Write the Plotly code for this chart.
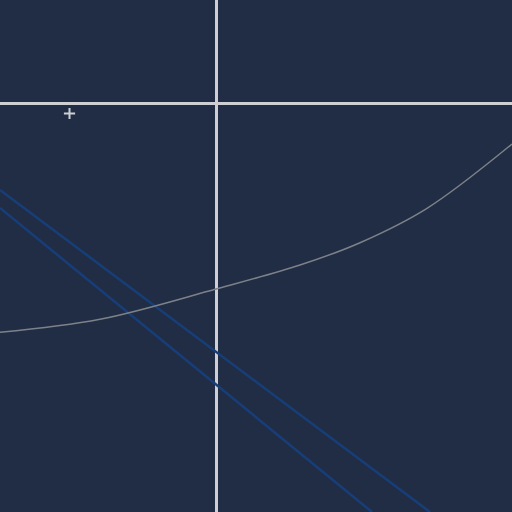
import plotly.graph_objects as go

# Gray curve
curve_x = [-2.16, -1.16, 0.0, 0.84, 1.44, 2.11, 2.96]
curve_y = [-2.293, -2.163, -1.86, -1.62, -1.397, -1.053, -0.41]

# Two blue straight lines
line1_x = [-2.16, 2.14]
line1_y = [-0.87, -4.09]
line2_x = [-2.16, 1.56]
line2_y = [-1.05, -4.09]

# Marker
mark_x = [-1.465]
mark_y = [-0.105]

BG = "rgb(33,45,68)"

fig = go.Figure()
fig.add_trace(go.Scatter(x=line1_x, y=line1_y, mode="lines",
                         line=dict(color="rgb(24,62,122)", width=2.5), hoverinfo="skip"))
fig.add_trace(go.Scatter(x=line2_x, y=line2_y, mode="lines",
                         line=dict(color="rgb(24,62,122)", width=2.5), hoverinfo="skip"))
fig.add_trace(go.Scatter(x=curve_x, y=curve_y, mode="lines",
                         line=dict(color="rgb(125,130,138)", width=1.5, shape="spline", smoothing=1.0),
                         hoverinfo="skip"))
fig.add_trace(go.Scatter(x=mark_x, y=mark_y, mode="markers",
                         marker=dict(symbol="cross-thin", size=8,
                                     line=dict(color="rgb(205,207,212)", width=2)),
                         hoverinfo="skip"))

fig.update_layout(
    width=512, height=512,
    margin=dict(l=0, r=0, t=0, b=0),
    paper_bgcolor=BG, plot_bgcolor=BG,
    showlegend=False,
    xaxis=dict(range=[-2.16, 2.96], showgrid=False, showticklabels=False, ticks="",
               zeroline=True, zerolinecolor="rgb(205,207,212)", zerolinewidth=3),
    yaxis=dict(range=[-4.09, 1.03], showgrid=False, showticklabels=False, ticks="",
               zeroline=True, zerolinecolor="rgb(205,207,212)", zerolinewidth=3),
)

fig.write_html("out.html", config={"displayModeBar": False},
               post_script="document.body.style.margin='0';document.body.style.background='rgb(33,45,68)';")
